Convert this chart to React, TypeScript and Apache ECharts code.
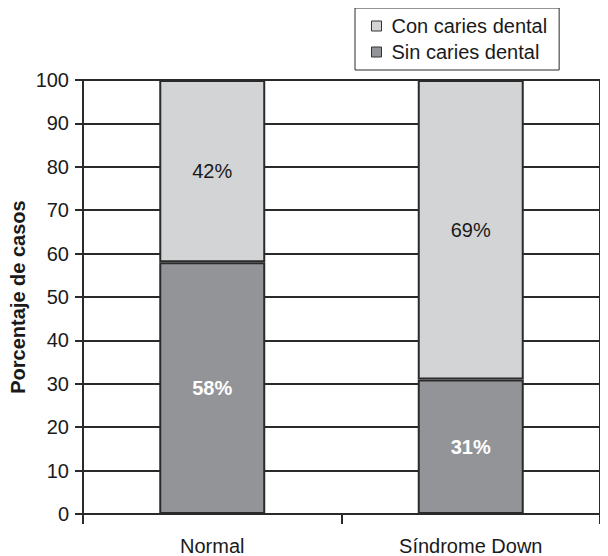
import React, { useEffect, useRef } from "react";
import * as echarts from "echarts";

const categories = ["Normal", "Síndrome Down"];
const sinCaries = [58, 31];
const conCaries = [42, 69];
const yTicks = { min: 0, max: 100, interval: 10 };

export default function App() {
  const ref = useRef<HTMLDivElement>(null);
  useEffect(() => {
    if (!ref.current) return;
    const chart = echarts.init(ref.current, undefined, { renderer: "svg" });
    const font = "Liberation Sans, Arial, sans-serif";
    chart.setOption({
      animation: false,
      textStyle: { fontFamily: font },
      grid: {
        left: 75,
        right: 8,
        top: 72,
        bottom: 42,
        outerBoundsMode: "none",
        containLabel: false,
        show: true,
        borderColor: "#2a2a2a",
        borderWidth: 2,
        backgroundColor: "transparent",
      },
      legend: {
        data: ["Con caries dental", "Sin caries dental"],
        orient: "vertical",
        left: 347,
        top: 0,
        padding: [8, 12, 8, 16],
        itemGap: 6,
        borderColor: "#2a2a2a",
        borderWidth: 1,
        itemWidth: 10,
        itemHeight: 10,
        icon: "rect",
        textStyle: { fontSize: 20, color: "#1a1a1a", fontFamily: font, padding: [0, 0, 0, 5] },
        itemStyle: { borderColor: "#333", borderWidth: 1 },
      },
      xAxis: {
        type: "category",
        data: categories,
        axisLine: { show: true, lineStyle: { color: "#2a2a2a", width: 2 } },
        axisTick: { show: true, length: 10, alignWithLabel: false, lineStyle: { color: "#2a2a2a", width: 2 } },
        axisLabel: { fontSize: 20, color: "#1a1a1a", margin: 22, fontFamily: font },
      },
      yAxis: {
        type: "value",
        min: yTicks.min,
        max: yTicks.max,
        interval: yTicks.interval,
        name: "Porcentaje de casos",
        nameLocation: "middle",
        nameGap: 55,
        nameMoveOverlap: false,
        nameTextStyle: { fontSize: 20, fontWeight: "bold", color: "#1a1a1a", fontFamily: font },
        axisLine: { show: true, lineStyle: { color: "#2a2a2a", width: 2 } },
        axisTick: { show: true, length: 8, lineStyle: { color: "#2a2a2a", width: 2 } },
        axisLabel: { fontSize: 20, color: "#1a1a1a", margin: 14, fontFamily: font },
        splitLine: { show: true, lineStyle: { color: "#2a2a2a", width: 2 } },
      },
      series: [
        {
          name: "Sin caries dental",
          type: "bar",
          stack: "total",
          barWidth: "41%",
          data: sinCaries,
          itemStyle: { color: "#939498", borderColor: "#2a2a2a", borderWidth: 2 },
          label: {
            show: true,
            position: "inside",
            formatter: "{c}%",
            color: "#ffffff",
            fontWeight: "bold",
            fontSize: 20,
            fontFamily: font,
          },
        },
        {
          name: "Con caries dental",
          type: "bar",
          stack: "total",
          barWidth: "41%",
          data: conCaries,
          itemStyle: { color: "#d3d4d6", borderColor: "#2a2a2a", borderWidth: 2 },
          label: {
            show: true,
            position: "inside",
            formatter: "{c}%",
            color: "#1a1a1a",
            fontSize: 20,
            fontFamily: font,
          },
        },
      ],
    });
    return () => chart.dispose();
  }, []);
  return <div ref={ref} style={{ width: 600, height: 548 }} />;
}
